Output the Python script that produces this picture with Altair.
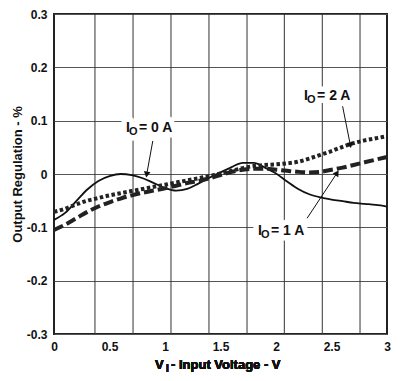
import altair as alt
import pandas as pd

# ---- data ----
x_vals = [0.0, 0.1, 0.2, 0.3, 0.4, 0.5, 0.6, 0.7, 0.8, 0.9, 1.0,
          1.1, 1.2, 1.3, 1.4, 1.5, 1.6, 1.7, 1.8, 1.9, 2.0,
          2.1, 2.2, 2.3, 2.4, 2.5, 2.6, 2.7, 2.8, 2.9, 3.0]

io_0a = [-0.086, -0.073, -0.051, -0.029, -0.013, -0.004, 0.000, -0.002, -0.008, -0.017, -0.026,
         -0.031, -0.028, -0.018, -0.007, 0.003, 0.013, 0.021, 0.021, 0.012, 0.001,
         -0.014, -0.028, -0.038, -0.044, -0.048, -0.051, -0.054, -0.056, -0.058, -0.061]

io_1a = [-0.105, -0.095, -0.083, -0.071, -0.061, -0.053, -0.046, -0.040, -0.035, -0.031, -0.027,
         -0.022, -0.017, -0.013, -0.008, -0.002, 0.004, 0.008, 0.010, 0.010, 0.008,
         0.006, 0.004, 0.003, 0.004, 0.008, 0.012, 0.017, 0.022, 0.027, 0.032]

io_2a = [-0.071, -0.065, -0.057, -0.050, -0.045, -0.040, -0.036, -0.032, -0.028, -0.024, -0.020,
         -0.016, -0.012, -0.008, -0.004, 0.001, 0.006, 0.011, 0.015, 0.017, 0.018,
         0.020, 0.023, 0.029, 0.036, 0.043, 0.051, 0.058, 0.063, 0.067, 0.071]

x_ticks = [0, 0.5, 1, 1.5, 2, 2.5, 3]
y_ticks = [-0.3, -0.2, -0.1, 0, 0.1, 0.2, 0.3]
grid_x = [0.369, 0.712, 1.054, 1.396, 1.739, 2.075, 2.417, 2.757]

ann_rest = ["= 0 A", "= 2 A", "= 1 A"]
ann_lx = [0.856, 2.46, 2.045]
ann_ly = [0.087, 0.147, -0.107]
arrow_x = [0.89, 2.60, 2.28]
arrow_y = [0.062, 0.127, -0.083]
tip_x = [0.835, 2.67, 2.55]
tip_y = [-0.001, 0.054, 0.002]
tip_angle = [190, 170, 33]

# ---- tables ----
curves = pd.DataFrame({"x": x_vals, "a0": io_0a, "a1": io_1a, "a2": io_2a})
ann = pd.DataFrame({"lx": ann_lx, "ly": ann_ly, "main": ["I"] * 3, "sub": ["O"] * 3,
                    "rest": ann_rest, "ax": arrow_x, "ay": arrow_y,
                    "tx": tip_x, "ty": tip_y, "ang": tip_angle})
grid_df = pd.DataFrame({"gx": grid_x})

W, H = 333, 320
FONT = "Liberation Sans"

xs = alt.Scale(domain=[0, 3], nice=False, zero=False)
ys = alt.Scale(domain=[-0.3, 0.3], nice=False, zero=False)
x_axis = alt.Axis(values=x_ticks, labelExpr="toString(datum.value)", grid=False, ticks=False,
                  domain=False, title=None, labelPadding=7, labelFlush=False)
y_axis = alt.Axis(values=y_ticks, labelExpr="toString(datum.value)", grid=True, gridColor="#555",
                  gridWidth=1, ticks=False, domain=False, title="Output Regulation - %",
                  labelPadding=7, titlePadding=2)


def X(f):
    return alt.X(f, type="quantitative", scale=xs, axis=x_axis)


def Y(f):
    return alt.Y(f, type="quantitative", scale=ys, axis=y_axis)


grid = alt.Chart(grid_df).mark_rule(color="#333", strokeWidth=1).encode(x=X("gx"))

line0 = alt.Chart(curves).mark_line(color="#111", strokeWidth=1.8, interpolate="monotone").encode(
    x=X("x"), y=Y("a0"))
line1 = alt.Chart(curves).mark_line(color="#222", strokeWidth=4, strokeDash=[10, 4],
                                    strokeCap="butt", interpolate="monotone").encode(x=X("x"), y=Y("a1"))
line2 = alt.Chart(curves).mark_line(color="#222", strokeWidth=4, strokeDash=[3.5, 2.5],
                                    strokeCap="butt", interpolate="monotone").encode(x=X("x"), y=Y("a2"))

abase = alt.Chart(ann)
pieces = [("main", -23, 0, 14), ("sub", -20, 4, 11), ("rest", -10, 0, 14)]
halos, texts = [], []
for field, dx, dy, size in pieces:
    halos.append(abase.mark_text(align="left", baseline="middle", dx=dx, dy=dy, fontSize=size,
                                 font=FONT, fontWeight="bold", color="white", stroke="white",
                                 strokeWidth=11, strokeJoin="round").encode(
        x=X("lx"), y=Y("ly"), text=alt.Text(f"{field}:N")))
    texts.append(abase.mark_text(align="left", baseline="middle", dx=dx, dy=dy, fontSize=size,
                                 font=FONT, fontWeight="bold", color="#111").encode(
        x=X("lx"), y=Y("ly"), text=alt.Text(f"{field}:N")))

arrows = abase.mark_rule(color="#111", strokeWidth=1).encode(
    x=X("ax"), y=Y("ay"), x2="tx", y2="ty")
heads = abase.mark_point(shape="triangle-up", filled=True, color="#111", size=45, opacity=1).encode(
    x=X("tx"), y=Y("ty"), angle=alt.Angle("ang:Q", scale=None))

tstyle = dict(font=FONT, fontWeight="bold", color="#111", align="left", baseline="middle")
xt1 = alt.Chart(grid_df).mark_text(text="V", fontSize=13, **tstyle).encode(
    x=alt.value(101), y=alt.value(H + 31))
xt2 = alt.Chart(grid_df).mark_text(text="I", fontSize=10, **tstyle).encode(
    x=alt.value(112), y=alt.value(H + 35))
xt3 = alt.Chart(grid_df).mark_text(text="- Input Voltage - V", fontSize=13, **tstyle).encode(
    x=alt.value(117), y=alt.value(H + 31))

chart = alt.layer(grid, line0, line1, line2, *halos, arrows, heads, *texts, xt1, xt2, xt3).properties(
    width=W, height=H,
    padding={"left": 46, "top": 6, "right": 13, "bottom": 39},
    autosize=alt.AutoSizeParams(type="none"),
    background="white",
).configure_view(
    stroke="#222", strokeWidth=2
).configure_axis(
    labelFont=FONT, labelFontWeight="bold", labelFontSize=12, labelColor="#111",
    titleFont=FONT, titleFontWeight="bold", titleFontSize=13, titleColor="#111",
)

chart.save("out.html", embed_options={"renderer": "svg", "actions": False})
